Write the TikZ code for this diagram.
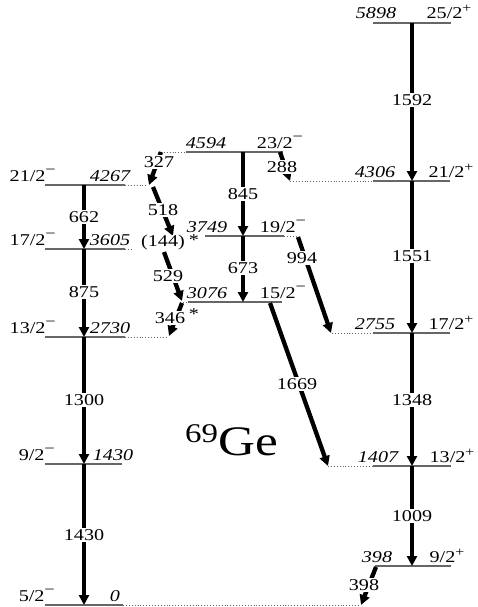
\documentclass[tikz,border=0pt]{standalone}
\usepackage{fontspec}
\setmainfont{Liberation Serif}[FakeStretch=1.22]
\usetikzlibrary{arrows.meta}
\newcommand\smin{\raisebox{6.5pt}{\fontsize{15}{15}\selectfont −}}
\newcommand\spl{\raisebox{6pt}{\fontsize{13}{13}\selectfont +}}
\begin{document}
\begin{tikzpicture}[x=1pt,y=-1pt,
 lvl/.style={line width=1.2pt, draw=black!60},
 ext/.style={line width=0.9pt, draw=black!60, dotted},
 gam/.style={line width=4.3pt, -{Triangle[length=10pt,width=10pt]}},
 gl/.style={fill=white, inner sep=1pt, font=\fontsize{16.5}{18}\selectfont},
 ast/.style={inner sep=0pt, font=\fontsize{16.5}{18}\selectfont},
 en/.style={anchor=base, inner sep=0pt, font=\fontsize{16.5}{18}\selectfont\itshape},
 sp/.style={anchor=base, inner sep=0pt, font=\fontsize{16.5}{18}\selectfont},
]
\useasboundingbox (0,0) rectangle (478,607);
% ---------- level lines
\draw[lvl] (45,185) -- (125,185); \draw[ext] (125,185) -- (148,185);
\draw[lvl] (45,249) -- (125,249); \draw[ext] (125,249) -- (131,249);
\draw[lvl] (45,337) -- (125,337); \draw[ext] (125,337) -- (167,337);
\draw[lvl] (45,464) -- (122,464);
\draw[lvl] (45,605) -- (123,605); \draw[ext] (123,605) -- (360,605);
\draw[ext] (158,152) -- (186,152); \draw[lvl] (186,152) -- (283,152);
\draw[lvl] (205,236) -- (284,236); \draw[ext] (284,236) -- (298,236);
\draw[ext] (180,302) -- (188,302); \draw[lvl] (188,302) -- (282,302);
\draw[lvl] (373,23) -- (451,23);
\draw[ext] (290,181) -- (373,181); \draw[lvl] (373,181) -- (450,181);
\draw[ext] (332,333) -- (373,333); \draw[lvl] (373,333) -- (450,333);
\draw[ext] (328,466) -- (373,466); \draw[lvl] (373,466) -- (451,466);
\draw[lvl] (375,566) -- (451,566);
% ---------- coordinates
\coordinate (a4267) at (84,185); \coordinate (a3605) at (84,249);
\coordinate (a2730) at (84,337); \coordinate (a1430) at (84,464);
\coordinate (a0) at (84,605);
\coordinate (m4594) at (243,152); \coordinate (m3749) at (243,236);
\coordinate (m3076) at (243,302);
\coordinate (r5898) at (412,23); \coordinate (r4306) at (412,181);
\coordinate (r2755) at (412,333); \coordinate (r1407) at (412,466);
\coordinate (r398) at (412,566);
\coordinate (s327a) at (161,152); \coordinate (s327b) at (149,185);
\coordinate (s518a) at (153,187); \coordinate (s518b) at (173,236);
\coordinate (s529a) at (164,252); \coordinate (s529b) at (182,301);
\coordinate (s346a) at (182,303); \coordinate (s346b) at (169,336);
\coordinate (s288a) at (280,152); \coordinate (s288b) at (290,181);
\coordinate (s994a) at (298,237); \coordinate (s994b) at (331,333);
\coordinate (s1669a) at (270,303); \coordinate (s1669b) at (328,466);
\coordinate (s398a) at (376,567); \coordinate (s398b) at (361,605);
% ---------- transitions
\draw[gam] (a4267) -- (a3605);
\draw[gam] (a3605) -- (a2730);
\draw[gam] (a2730) -- (a1430);
\draw[gam] (a1430) -- (a0);
\draw[gam] (m4594) -- (m3749);
\draw[gam] (m3749) -- (m3076);
\draw[gam] (r5898) -- (r4306);
\draw[gam] (r4306) -- (r2755);
\draw[gam] (r2755) -- (r1407);
\draw[gam] (r1407) -- (r398);
\draw[gam] (s327a) -- (s327b);
\draw[gam] (s518a) -- (s518b);
\draw[gam] (s529a) -- (s529b);
\draw[gam] (s346a) -- (s346b);
\draw[gam] (s288a) -- (s288b);
\draw[gam] (s994a) -- (s994b);
\draw[gam] (s1669a) -- (s1669b);
\draw[gam] (s398a) -- (s398b);
% ---------- gamma labels
\node[gl] (g1592) at (412,100) {1592};
\node[gl] (g1551) at (412,256) {1551};
\node[gl] (g1348) at (412,400) {1348};
\node[gl] (g1009) at (412,516) {1009};
\node[gl] (g398) at (364,585) {398};
\node[gl] (g1669) at (297,384) {1669};
\node[gl] (g994) at (302,258) {994};
\node[gl] (g288) at (282,167) {288};
\node[gl] (g845) at (243,194) {845};
\node[gl] (g673) at (243,268) {673};
\node[gl] (g327) at (159,162) {327};
\node[gl] (g518) at (163,210) {518};
\node[gl] (g144) at (163,243) {(144)};
\node[ast] (st144) at (194,240) {*};
\node[gl] (g529) at (168,276) {529};
\node[gl] (g346) at (170,318) {346};
\node[ast] (st346) at (194,314) {*};
\node[gl] (g662) at (84,217) {662};
\node[gl] (g875) at (84,292) {875};
\node[gl] (g1300) at (84,400) {1300};
\node[gl] (g1430) at (84,535) {1430};
% ---------- level labels
\node[sp, anchor=base east] (j4267) at (56,181) {21/2\smin};
\node[sp, anchor=base east] (j3605) at (56,245) {17/2\smin};
\node[sp, anchor=base east] (j2730) at (56,333) {13/2\smin};
\node[sp, anchor=base east] (j1430) at (55,460) {9/2\smin};
\node[sp, anchor=base east] (j0) at (55,601) {5/2\smin};
\node[en] (e4267) at (110,181) {4267};
\node[en] (e3605) at (110,245) {3605};
\node[en] (e2730) at (110,333) {2730};
\node[en] (e1430) at (113,460) {1430};
\node[en] (e0) at (115,601) {0};
\node[en] (e4594) at (206,148) {4594};
\node[sp] (j4594) at (280,148) {23/2\smin};
\node[en] (e3749) at (207,232) {3749};
\node[sp] (j3749) at (283,232) {19/2\smin};
\node[en] (e3076) at (207,298) {3076};
\node[sp] (j3076) at (283,298) {15/2\smin};
\node[en] (e5898) at (376,19) {5898};
\node[sp] (j5898) at (449,19) {25/2\spl};
\node[en] (e4306) at (375,177) {4306};
\node[sp] (j4306) at (451,177) {21/2\spl};
\node[en] (e2755) at (375,329) {2755};
\node[sp] (j2755) at (451,329) {17/2\spl};
\node[en] (e1407) at (378,462) {1407};
\node[sp] (j1407) at (452,462) {13/2\spl};
\node[en] (e398) at (377,562) {398};
\node[sp] (j398) at (447,562) {9/2\spl};
% ---------- nucleus
\node[anchor=base west, inner sep=0pt, font=\fontsize{42}{46}\selectfont] (nuc) at (185,455)
  {\raisebox{13pt}{\fontsize{27}{30}\selectfont 69}Ge};
\end{tikzpicture}
\end{document}
